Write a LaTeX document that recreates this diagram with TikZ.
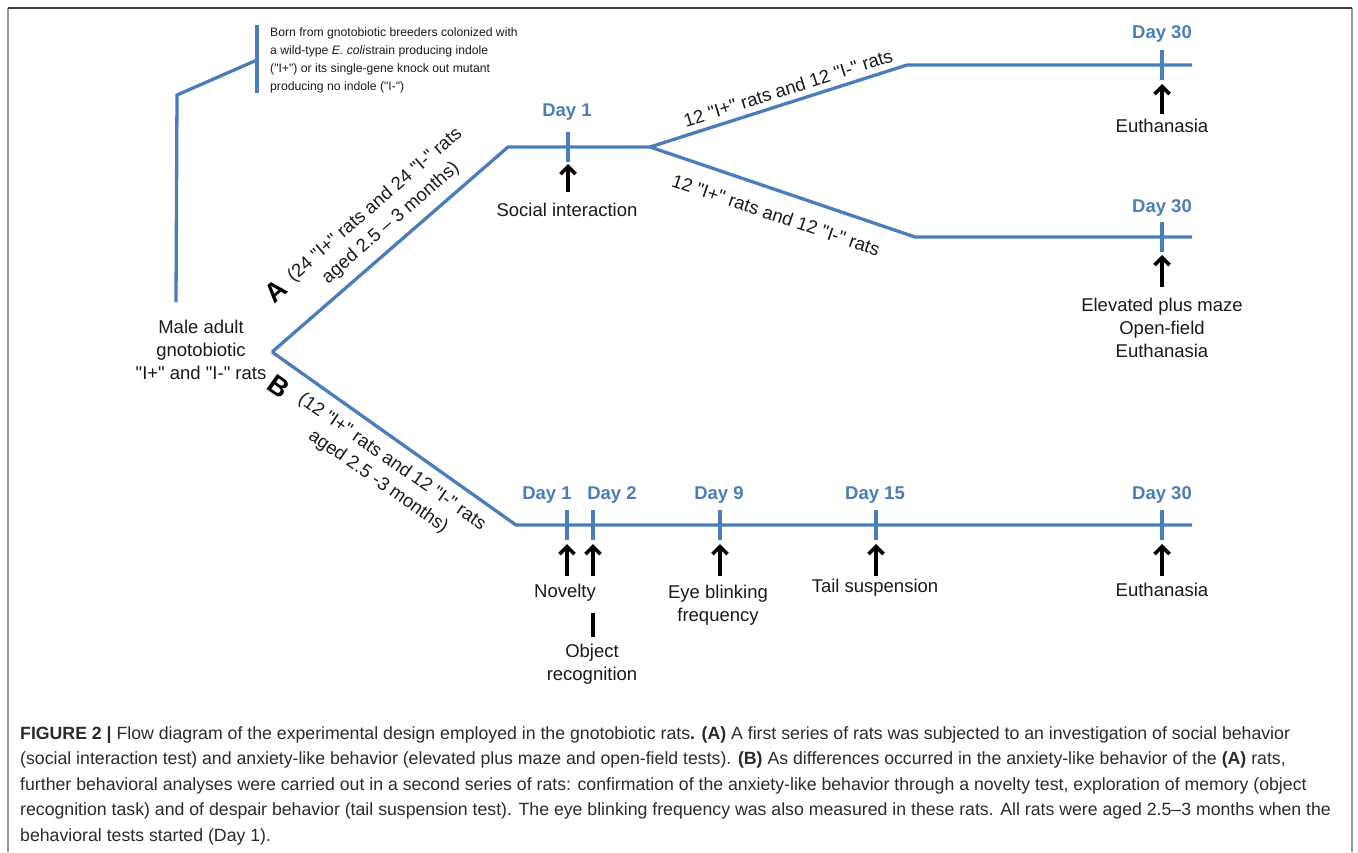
\documentclass[tikz,border=0pt]{standalone}
\usepackage{fontspec}
\setmainfont{Liberation Sans}
\newfontfamily\capfont{Liberation Sans}
\usetikzlibrary{arrows.meta}
\definecolor{lineblue}{HTML}{4A7EBB}
\definecolor{txt}{HTML}{1A1A1A}
\definecolor{captxt}{HTML}{2B2B2B}
\newcommand{\qmk}{\textquotedbl}
\begin{document}
\begin{tikzpicture}[x=1pt,y=-1pt,
  tl/.style={line width=3.3pt, draw=lineblue},
  tickmark/.style={line width=3.3pt, draw=lineblue},
  uparrow/.style={draw=black, line width=3.6pt, -{Straight Barb[length=7.5pt,width=15pt]}},
  lab/.style={text=txt, font=\fontsize{18.5}{23}\selectfont, align=center, inner sep=0pt},
  rlab/.style={text=txt, font=\fontsize{18.5}{24}\selectfont, align=center, inner sep=0pt},
  big/.style={text=black, font=\bfseries\fontsize{27}{27}\selectfont, inner sep=0pt},
  day/.style={text=lineblue, font=\bfseries\fontsize{18.5}{18.5}\selectfont, inner sep=0pt}]
\useasboundingbox (0,0) rectangle (1358,852);
% frame
\coordinate (f1) at (8,852); \coordinate (f2) at (8,8); \coordinate (f3) at (1352,8); \coordinate (f4) at (1352,852);
\draw[draw=gray!80, line width=1.5pt] (f1) -- (f2);
\draw[draw=gray!80, line width=1.5pt] (f3) -- (f4);
\draw[draw=black!75, line width=1.2pt] (f2) -- (f3);
% bracket
\coordinate (bt) at (257,25); \coordinate (bb) at (257,93); \coordinate (bm) at (257,60);
\coordinate (bk) at (177,95); \coordinate (bl) at (176,302);
\draw[tl] (bt) -- (bb);
\draw[tl] (bm) -- (bk) -- (bl);
\node[anchor=north west, align=left, text=txt, font=\fontsize{12.2}{18.3}\selectfont, inner sep=0pt] (note) at (270,27)
 {Born from gnotobiotic breeders colonized with\\a wild-type \textit{E. coli}strain producing indole\\(\qmk I+\qmk) or its single-gene knock out mutant\\producing no indole (\qmk I-\qmk)};
\node[lab] (male) at (201,350) {Male adult\\gnotobiotic\\\qmk I+\qmk\ and \qmk I-\qmk\ rats};
% main lines
\coordinate (o) at (272,352);
\coordinate (a1) at (508,147); \coordinate (a2) at (650,147);
\coordinate (u1) at (907,65); \coordinate (u2) at (1192,65);
\coordinate (l1) at (915,237); \coordinate (l2) at (1192,237);
\coordinate (b1) at (516,525); \coordinate (b2) at (1192,525);
\draw[tl] (o) -- (a1) -- (a2) -- (u1) -- (u2);
\draw[tl] (a2) -- (l1) -- (l2);
\draw[tl] (o) -- (b1) -- (b2);
% branch labels
\node[big, rotate=41] (Alab) at (276,291) {A};
\node[rlab, rotate=41] (Atxt) at (383,214) {(24 \qmk I+\qmk\ rats and 24 \qmk I-\qmk\ rats\\aged 2.5 – 3 months)};
\node[big, rotate=-35] (Blab) at (279,386) {B};
\node[rlab, rotate=-35] (Btxt) at (385,472) {(12 \qmk I+\qmk\ rats and 12 \qmk I-\qmk\ rats\\aged 2.5 -3 months)};
\node[rlab, rotate=17.5] (ulab) at (788,88) {12 \qmk I+\qmk\ rats and 12 \qmk I-\qmk\ rats};
\node[rlab, rotate=-18.8] (llab) at (776,215) {12 \qmk I+\qmk\ rats and 12 \qmk I-\qmk\ rats};
% ticks A
\coordinate (tA1a) at (568,132); \coordinate (tA1b) at (568,162);
\coordinate (tU30a) at (1162,50); \coordinate (tU30b) at (1162,80);
\coordinate (tL30a) at (1162,222); \coordinate (tL30b) at (1162,252);
\draw[tickmark] (tA1a) -- (tA1b);
\draw[tickmark] (tU30a) -- (tU30b);
\draw[tickmark] (tL30a) -- (tL30b);
% ticks B
\coordinate (tB1a) at (567,510); \coordinate (tB1b) at (567,540);
\coordinate (tB2a) at (593,510); \coordinate (tB2b) at (593,540);
\coordinate (tB9a) at (720,510); \coordinate (tB9b) at (720,540);
\coordinate (tB15a) at (876,510); \coordinate (tB15b) at (876,540);
\coordinate (tB30a) at (1162,510); \coordinate (tB30b) at (1162,540);
\foreach \t in {B1,B2,B9,B15,B30} {\draw[tickmark] (t\t a) -- (t\t b);}
% day labels
\node[day] (dA1) at (567,112) {Day 1};
\node[day] (dU30) at (1162,34) {Day 30};
\node[day] (dL30) at (1162,208) {Day 30};
\node[day] (dB1) at (547,495) {Day 1};
\node[day] (dB2) at (612,495) {Day 2};
\node[day] (dB9) at (719,495) {Day 9};
\node[day] (dB15) at (875,495) {Day 15};
\node[day] (dB30) at (1162,495) {Day 30};
% event labels
\node[lab] (soc) at (567,210) {Social interaction};
\node[lab] (euthU) at (1162,126) {Euthanasia};
\node[lab] (epm) at (1162,328) {Elevated plus maze\\Open-field\\Euthanasia};
\node[lab] (nov) at (565,593) {Novelty};
\node[lab] (obj) at (592,664) {Object\\recognition};
\node[lab] (eye) at (718,605) {Eye blinking\\frequency};
\node[lab] (tail) at (875,588) {Tail suspension};
\node[lab] (euthB) at (1162,590) {Euthanasia};
% arrows
\coordinate (sA1) at (568,192); \coordinate (eA1) at (568,164);
\coordinate (sU) at (1162,114); \coordinate (eU) at (1162,84);
\coordinate (sL) at (1162,287); \coordinate (eL) at (1162,255);
\coordinate (sB1) at (567,576); \coordinate (eB1) at (567,544);
\coordinate (sB2) at (593,576); \coordinate (eB2) at (593,544);
\coordinate (sB9) at (720,576); \coordinate (eB9) at (720,544);
\coordinate (sB15) at (876,576); \coordinate (eB15) at (876,544);
\coordinate (sB30) at (1162,576); \coordinate (eB30) at (1162,544);
\foreach \t in {A1,U,L,B1,B2,B9,B15,B30} {\draw[uparrow] (s\t) -- (e\t);}
% bar under Novelty
\coordinate (bar1) at (593,613); \coordinate (bar2) at (593,637);
\draw[draw=black, line width=3.3pt] (bar1) -- (bar2);
% caption
\node[anchor=north west, align=left, inner sep=0pt, text=captxt, font=\capfont\fontsize{17.7}{25.5}\selectfont] (cap) at (20,726)
{\textbf{FIGURE 2 |} Flow diagram of the experimental design employed in the gnotobiotic rats\textbf{. (A)} A first series of rats was subjected to an investigation of social behavior\\
(social interaction test) and anxiety-like behavior (elevated plus maze and open-field tests). \textbf{(B)} As differences occurred in the anxiety-like behavior of the \textbf{(A)} rats,\\
further behavioral analyses were carried out in a second series of rats: confirmation of the anxiety-like behavior through a novelty test, exploration of memory (object\\
recognition task) and of despair behavior (tail suspension test). The eye blinking frequency was also measured in these rats. All rats were aged 2.5–3 months when the\\
behavioral tests started (Day 1).};
\end{tikzpicture}
\end{document}
